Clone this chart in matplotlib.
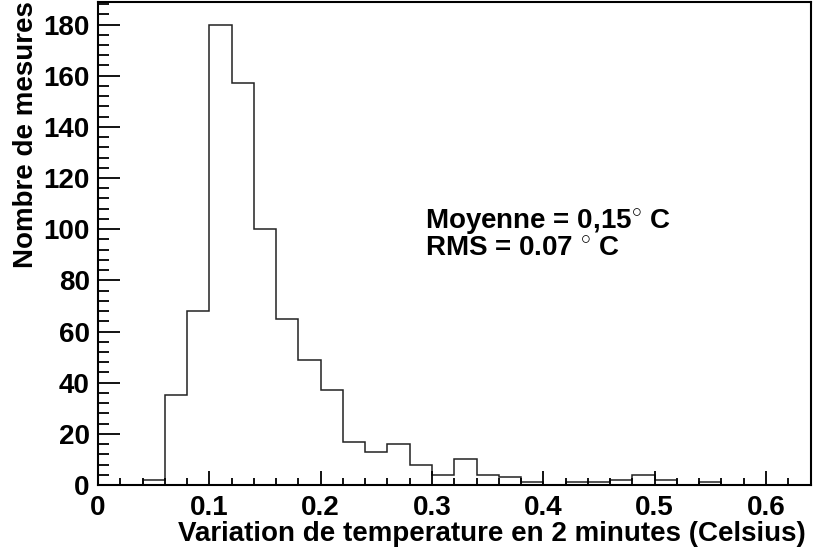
import numpy as np
import matplotlib
matplotlib.use("Agg")
import matplotlib.pyplot as plt
from matplotlib.ticker import MultipleLocator

plt.rcParams['font.family'] = ['Liberation Sans', 'DejaVu Sans']
plt.rcParams['font.weight'] = 'bold'
plt.rcParams['mathtext.fontset'] = 'custom'
plt.rcParams['mathtext.rm'] = 'Liberation Sans:bold'
plt.rcParams['mathtext.bf'] = 'Liberation Sans:bold'

# Histogram data (bins of 0.02 starting at 0)
bin_start = 0.0
bin_width = 0.02
counts = [0, 0, 2, 35, 68, 180, 157, 100, 65, 49, 37, 17, 13, 16, 8, 4,
          10, 4, 3, 1, 0, 1, 1, 2, 4, 2, 0, 1, 0, 0, 0, 0]
x_label = "Variation de temperature en 2 minutes (Celsius)"
y_label = "Nombre de mesures"
stats_lines = ["Moyenne = 0,15$^{\\circ}$ C", "RMS = 0.07 $^{\\circ}$ C"]

FS = 20
W, H = 813, 556
fig = plt.figure(figsize=(W / 100, H / 100), dpi=100)
ax = fig.add_axes([98 / W, 1 - 485 / H, (810.5 - 98) / W, (485 - 1.5) / H])

edges = bin_start + bin_width * np.arange(len(counts) + 1)
ax.stairs(counts, edges, color='#222222', linewidth=1.1)

ax.set_xlim(edges[0], edges[-1])
ax.set_ylim(0, max(counts) * 1.05)

ax.xaxis.set_major_locator(MultipleLocator(0.1))
ax.xaxis.set_minor_locator(MultipleLocator(0.02))
ax.yaxis.set_major_locator(MultipleLocator(20))
ax.yaxis.set_minor_locator(MultipleLocator(4))
ax.xaxis.set_major_formatter(plt.FuncFormatter(lambda v, p: f"{v:.1f}" if abs(v) > 1e-9 else "0"))
ax.yaxis.set_major_formatter(plt.FuncFormatter(lambda v, p: f"{int(round(v))}"))

ax.tick_params(axis='both', which='both', direction='in', top=False, right=False,
               labelsize=FS, width=1.3, color='black')
ax.tick_params(axis='x', which='major', length=10, pad=7)
ax.tick_params(axis='x', which='minor', length=5)
ax.tick_params(axis='y', which='major', length=16, pad=6)
ax.tick_params(axis='y', which='minor', length=8)
for lab in ax.get_xticklabels() + ax.get_yticklabels():
    lab.set_fontweight('bold')
for s in ax.spines.values():
    s.set_linewidth(1.5)

fig.text(806 / W, 1 - 541 / H, x_label, ha='right', va='baseline',
         fontsize=FS, fontweight='bold')
fig.text(13 / W, 1 - 1 / H, y_label, ha='left', va='top', rotation=90,
         fontsize=FS, fontweight='bold')

fig.text(425 / W, 1 - 256 / H, "\n".join(stats_lines), ha='left', va='baseline',
         fontsize=FS, fontweight='bold', linespacing=0.95, multialignment='left')

fig.savefig("out.png", dpi=100)
